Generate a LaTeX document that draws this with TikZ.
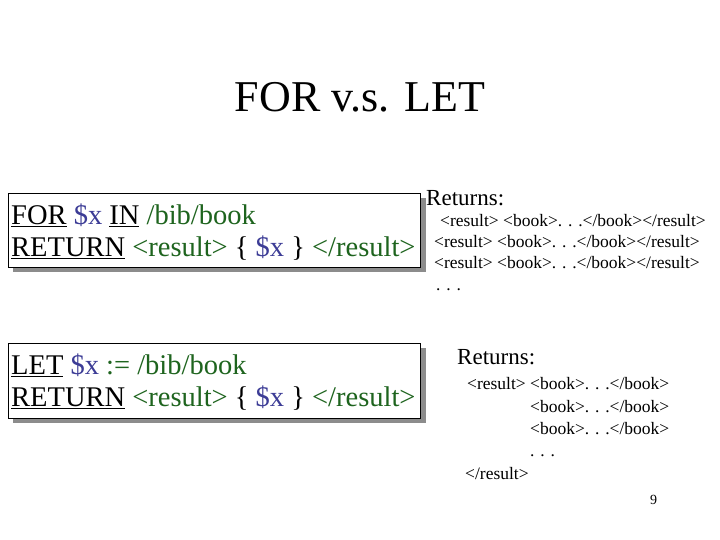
\documentclass[tikz,border=0pt]{standalone}
\usepackage{fontspec}
\setmainfont{Liberation Serif}
\usetikzlibrary{positioning}
\definecolor{varblue}{RGB}{60,60,150}
\definecolor{pathgreen}{RGB}{30,100,30}
\newcommand{\kw}[1]{\underline{#1}}
\newcommand{\vx}{\textcolor{varblue}{\$x}}
\newcommand{\pth}[1]{\textcolor{pathgreen}{#1}}
\tikzset{
  line/.style={anchor=base west, inner sep=0pt},
  qbox/.style={draw, fill=white, line width=0.8pt},
  qshadow/.style={fill=black!45}
}
\begin{document}
\begin{tikzpicture}[x=1pt,y=1pt]

        \useasboundingbox (0,0) rectangle (720,540);

        % title
        \node[anchor=base, inner sep=0pt] (title) at (360,428) {\fontsize{44}{48}\selectfont FOR v.s. LET};

        % query boxes
        \path[qshadow] (13,268) rectangle (426,342);
        \path[qbox] (8,273) rectangle (420,347);
        \path[qshadow] (13,117) rectangle (426,192);
        \path[qbox] (8,122) rectangle (420,197);

        \node[line] (for1) at (11,315) {\fontsize{28.5}{31}\selectfont \kw{FOR} \vx{} \kw{IN} \pth{/bib/book}};
        \node[line] (for2) at (11,283) {\fontsize{28.5}{31}\selectfont \kw{RETURN} \pth{<result>} \{ \vx{} \} \pth{</result>}};
        \node[line] (let1) at (11,165) {\fontsize{28.5}{31}\selectfont \kw{LET} \vx{} \pth{:= /bib/book}};
        \node[line] (let2) at (11,133) {\fontsize{28.5}{31}\selectfont \kw{RETURN} \pth{<result>} \{ \vx{} \} \pth{</result>}};

        % FOR results
        \node[line] (ret1) at (426,334) {\fontsize{23}{26}\selectfont Returns:};
        \foreach \y/\xx in {313/440, 292/434, 271/434}
            \node[line] at (\xx,\y) {\fontsize{17.5}{20}\selectfont <result> <book>. . .</book></result>};
        \node[line] at (436,249) {\fontsize{17.5}{20}\selectfont . . .};

        % LET result
        \node[line] (ret2) at (457,175) {\fontsize{23}{26}\selectfont Returns:};
        \node[line] at (467,150) {\fontsize{17.5}{20}\selectfont <result> <book>. . .</book>};
        \foreach \y in {127,105}
            \node[line] at (530,\y) {\fontsize{17.5}{20}\selectfont <book>. . .</book>};
        \node[line] at (530,83) {\fontsize{17.5}{20}\selectfont . . .};
        \node[line] at (465,60) {\fontsize{17.5}{20}\selectfont </result>};

        \node[line] (page) at (650,35) {\fontsize{14}{16}\selectfont 9};

    \end{tikzpicture}
\end{document}
